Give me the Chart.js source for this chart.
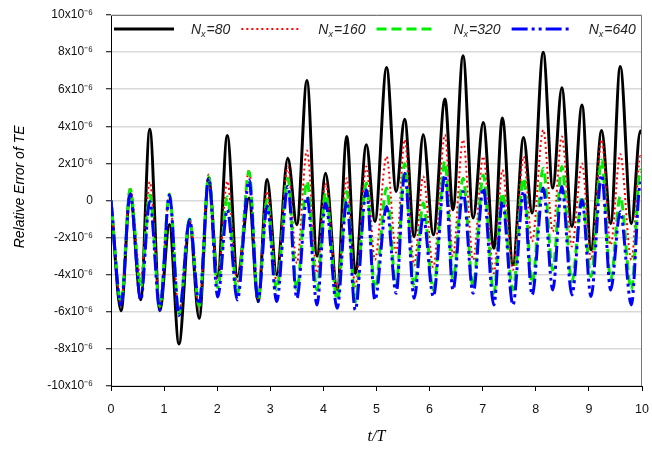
<!DOCTYPE html>
<html>
<head>
<meta charset="utf-8">
<script src="https://cdn.jsdelivr.net/npm/chart.js@4.4.1/dist/chart.umd.min.js"></script>
<style>
  html, body { margin: 0; padding: 0; background: #fff; }
  #wrap { width: 652px; height: 451px; }
</style>
</head>
<body>
<div id="wrap"><canvas id="teChart" width="652" height="451"></canvas></div>
<script>
// t/T at the turning points (peaks / troughs)
const tOverT = [0, 0.19, 0.36, 0.56, 0.73, 0.92, 1.10, 1.28, 1.48, 1.66,
  1.84, 2.01, 2.19, 2.38, 2.60, 2.77, 2.94, 3.12, 3.33, 3.50,
  3.69, 3.88, 4.04, 4.26, 4.44, 4.60, 4.81, 4.97, 5.19, 5.37,
  5.53, 5.71, 5.88, 6.07, 6.29, 6.44, 6.63, 6.82, 7.01, 7.21,
  7.37, 7.57, 7.77, 7.93, 8.14, 8.32, 8.49, 8.68, 8.87, 9.04,
  9.24, 9.41, 9.59, 9.80, 9.97, 10];

// relative error of TE, in units of 1e-6
const errNx80 = [0, -5.94, 0.4, -5.35, 3.84, -5.94, -1.3, -7.73, -1.2, -6.35,
  1.2, -4.1, 3.5, -4.1, 0.13, -5.45, 1.13, -4.0, 2.28, -1.31,
  6.47, -3.0, 1.47, -4.82, 3.45, -3.92, 3.0, -1.13, 7.17, 0.49,
  4.38, -1.94, 3.55, -1.85, 5.47, -0.5, 7.8, -0.95, 4.2, -2.57,
  4.45, -3.47, 3.4, -0.68, 7.99, 0.67, 6.08, -1.4, 5.15, -2.66,
  3.77, -1.24, 7.23, -1.24, 3.74, 3.6];
const errNx160 = [0, -5.5, 0.7, -4.2, 1.0, -5.5, 0.3, -6.0, -1.0, -5.8,
  1.4, -4.3, 1.04, -4.4, 1.65, -5.27, 0.49, -4.37, 1.8, -3.38,
  2.7, -3.92, 0.94, -4.73, 1.2, -4.64, 1.83, -3.2, 2.37, -2.8,
  3.27, -3.5, 1.3, -3.6, 3.54, -3.0, 3.27, -3.2, 2.37, -3.92,
  1.65, -3.74, 2.37, -2.2, 3.81, -1.67, 3.45, -2.48, 2.0, -3.2,
  3.27, -2.4, 2.5, -3.2, 2.4, 2.3];
const errNx320 = [0, -5.5, 0.6, -4.64, 0.3, -5.7, 0.35, -6.1, -1.0, -5.7,
  1.3, -4.7, 0.2, -5.0, 1.56, -5.36, 0.04, -4.82, 1.2, -4.82,
  1.03, -4.82, 0.4, -5.36, 0.49, -5.45, 0.94, -4.82, 0.67, -4.64,
  2.0, -4.64, -0.14, -4.82, 2.1, -4.28, 1.2, -4.64, 1.38, -5.0,
  0.4, -4.82, 1.2, -4.46, 1.74, -3.74, 1.83, -4.37, 0.22, -4.1,
  2.19, -4.28, 0.22, -4.82, 1.65, 1.5];
const errNx640 = [0, -5.63, 0.35, -5.36, -0.05, -5.9, 0.3, -6.2, -1.04, -5.6,
  1.2, -5.2, -0.5, -5.36, 1.1, -5.45, -0.3, -5.45, 0.76, -5.27,
  0.2, -5.63, -0.14, -5.81, -0.05, -5.9, 0.58, -5.36, -0.32, -5.0,
  1.47, -5.27, -0.86, -5.18, 1.38, -4.82, 0.49, -5.0, 0.67, -5.63,
  -0.05, -5.63, 0.49, -5.09, 0.67, -4.82, 0.76, -5.09, 0.04, -5.18,
  1.38, -4.82, -0.6, -5.63, 0.94, 0.9];

const gridSizes = ['80', '160', '320', '640'];
const yTickLabels = ['-10x10⁻⁶', '-8x10⁻⁶', '-6x10⁻⁶', '-4x10⁻⁶', '-2x10⁻⁶', '0',
  '2x10⁻⁶', '4x10⁻⁶', '6x10⁻⁶', '8x10⁻⁶', '10x10⁻⁶'];

const SANS = '"Liberation Sans", Arial, sans-serif';

function toPoints(values) {
  return tOverT.map((t, i) => ({ x: t, y: values[i] }));
}

// legend sits inside the plot box, N with a subscript x
const legendInPlot = {
  id: 'legendInPlot',
  afterDraw(chart) {
    const { ctx, chartArea } = chart;
    let x = chartArea.left + 3;
    const y = chartArea.top + 14;
    ctx.save();
    chart.data.datasets.forEach((ds, i) => {
      ctx.beginPath();
      ctx.setLineDash(ds.borderDash || []);
      ctx.lineWidth = ds.borderWidth;
      ctx.strokeStyle = ds.borderColor;
      ctx.moveTo(x, y);
      ctx.lineTo(x + 60, y);
      ctx.stroke();
      x += 77;
      ctx.setLineDash([]);
      ctx.fillStyle = '#222';
      ctx.textBaseline = 'alphabetic';
      ctx.textAlign = 'left';
      ctx.font = 'italic 14px ' + SANS;
      ctx.fillText('N', x, y + 5);
      x += ctx.measureText('N').width;
      ctx.font = 'italic 9px ' + SANS;
      ctx.fillText('x', x, y + 8);
      x += ctx.measureText('x').width + 1;
      ctx.font = 'italic 14px ' + SANS;
      const rest = '=' + gridSizes[i];
      ctx.fillText(rest, x, y + 5);
      x += ctx.measureText(rest).width + 11;
    });
    ctx.restore();
  }
};

// top and right edges of the plot frame
const plotFrame = {
  id: 'plotFrame',
  afterDatasetsDraw(chart) {
    const { ctx, chartArea } = chart;
    ctx.save();
    ctx.strokeStyle = '#777';
    ctx.lineWidth = 1;
    ctx.beginPath();
    ctx.moveTo(chartArea.left, chartArea.top + 0.5);
    ctx.lineTo(chartArea.right - 0.5, chartArea.top + 0.5);
    ctx.lineTo(chartArea.right - 0.5, chartArea.bottom);
    ctx.stroke();
    ctx.restore();
  }
};

const ctx = document.getElementById('teChart').getContext('2d');
new Chart(ctx, {
  type: 'line',
  data: {
    datasets: [{
      label: 'Nx=80',
      data: toPoints(errNx80),
      borderColor: '#000000',
      borderWidth: 3,
      order: 4
    }, {
      label: 'Nx=160',
      data: toPoints(errNx160),
      borderColor: '#ff0000',
      borderWidth: 2,
      borderDash: [2, 3],
      order: 3
    }, {
      label: 'Nx=320',
      data: toPoints(errNx320),
      borderColor: '#00ee00',
      borderWidth: 3,
      borderDash: [10, 5],
      order: 2
    }, {
      label: 'Nx=640',
      data: toPoints(errNx640),
      borderColor: '#0000ff',
      borderWidth: 3,
      borderDash: [16, 4, 3, 4, 3, 4],
      order: 1
    }]
  },
  options: {
    responsive: false,
    animation: false,
    devicePixelRatio: 1,
    layout: { padding: { left: 0, right: 10, top: 15, bottom: 0 } },
    elements: {
      point: { radius: 0 },
      line: { cubicInterpolationMode: 'monotone', fill: false }
    },
    plugins: {
      legend: { display: false },
      tooltip: { enabled: false }
    },
    scales: {
      x: {
        type: 'linear',
        min: 0,
        max: 10,
        ticks: { stepSize: 1, padding: 11, color: '#111', font: { family: SANS, size: 12.5 } },
        grid: { drawOnChartArea: false, tickLength: 5, tickColor: '#000', tickWidth: 1 },
        border: { color: '#000', width: 1 },
        title: {
          display: true,
          text: 't/T',
          color: '#000',
          font: { family: '"Liberation Serif", "Times New Roman", serif', style: 'italic', size: 16 },
          padding: { top: 4, bottom: 5 }
        },
        afterFit(scale) {
          scale.height = 65;
          scale.paddingLeft = 0;
          scale.paddingRight = 0;
        }
      },
      y: {
        min: -10,
        max: 10,
        ticks: {
          stepSize: 2,
          padding: 13,
          color: '#111',
          font: { family: SANS, size: 12 },
          callback: (value, i) => yTickLabels[i]
        },
        grid: { color: '#d9d9d9', lineWidth: 1.5, tickLength: 5, tickColor: '#000', tickWidth: 1 },
        border: { color: '#000', width: 1 },
        title: {
          display: true,
          text: '       Relative Error of TE',
          color: '#000',
          font: { family: SANS, style: 'italic', size: 14 },
          padding: { top: 12, bottom: 0 }
        },
        afterFit(scale) {
          scale.width = 111;
          scale.paddingTop = 0;
          scale.paddingBottom = 0;
        }
      }
    }
  },
  plugins: [plotFrame, legendInPlot]
});
</script>
</body>
</html>
